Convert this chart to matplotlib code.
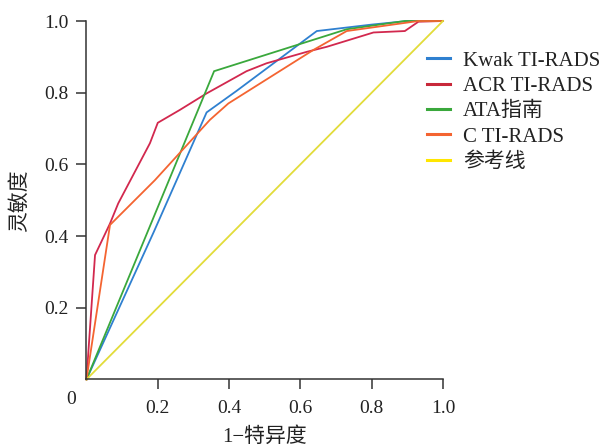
import matplotlib
matplotlib.use("Agg")
import matplotlib.pyplot as plt
from matplotlib.lines import Line2D

plt.rcParams['font.family'] = ['Liberation Serif', 'Noto Sans CJK SC']

series_names = ["Kwak TI-RADS", "ACR TI-RADS", "ATA指南", "C TI-RADS", "参考线"]

kwak_x = [0.0, 0.189, 0.337, 0.421, 0.646, 0.80, 0.90, 1.0]
kwak_y = [0.0, 0.412, 0.745, 0.805, 0.972, 0.99, 1.0, 1.0]

acr_x = [0.0, 0.024, 0.066, 0.089, 0.178, 0.200, 0.262, 0.337, 0.449, 0.505, 0.618, 0.674, 0.805, 0.893, 0.931, 1.0]
acr_y = [0.0, 0.347, 0.435, 0.491, 0.659, 0.716, 0.752, 0.798, 0.860, 0.882, 0.914, 0.928, 0.968, 0.972, 0.998, 1.0]

ata_x = [0.0, 0.358, 0.730, 0.893, 1.0]
ata_y = [0.0, 0.860, 0.977, 1.0, 1.0]

c_x = [0.0, 0.066, 0.192, 0.346, 0.398, 0.636, 0.730, 0.931, 1.0]
c_y = [0.0, 0.431, 0.556, 0.724, 0.770, 0.919, 0.972, 1.0, 1.0]

ref_x = [0.0, 1.0]
ref_y = [0.0, 1.0]

ticks = [0.2, 0.4, 0.6, 0.8, 1.0]
tick_labels = ["0.2", "0.4", "0.6", "0.8", "1.0"]

colors = ["#2f80d0", "#d2284e", "#3aa83c", "#f46431", "#e2dc3a"]
legend_colors = ["#2f80d0", "#c8283a", "#3aa83c", "#f46431", "#ffe600"]

fig = plt.figure(figsize=(6.06, 4.47), dpi=100)
ax = fig.add_axes([0.1427, 0.1512, 0.5883, 0.8018])

data = [(kwak_x, kwak_y), (acr_x, acr_y), (ata_x, ata_y), (c_x, c_y), (ref_x, ref_y)]
for (xs, ys), col in zip(data, colors):
    ax.plot(xs, ys, color=col, lw=1.3, solid_joinstyle='miter', clip_on=False)

ax.set_xlim(0, 1.0)
ax.set_ylim(0, 1.0)
ax.set_xticks(ticks)
ax.set_xticklabels(tick_labels)
ax.set_yticks(ticks)
ax.set_yticklabels(tick_labels)
for s in ["top", "right"]:
    ax.spines[s].set_visible(False)
for s in ["left", "bottom"]:
    ax.spines[s].set_color("#333333")
    ax.spines[s].set_linewidth(1.1)
ax.tick_params(axis='both', direction='out', length=7, width=1.1, color="#333333",
               labelsize=14, labelcolor="#222222")
ax.tick_params(axis='x', pad=8)
ax.tick_params(axis='y', pad=6)
ax.text(-0.03, -0.032, "0", transform=ax.transAxes, ha='right', va='top',
        fontsize=14, color="#222222")

ax.set_xlabel("1−特异度", fontsize=15, color="#222222", labelpad=7)
ax.set_ylabel("灵敏度", fontsize=15, color="#222222", labelpad=10)

handles = [Line2D([0], [0], color=c, lw=2.2) for c in legend_colors]
leg = fig.legend(handles, series_names, loc='upper left', bbox_to_anchor=(0.7046, 0.886),
                 frameon=False, fontsize=15, handlelength=1.1, handletextpad=0.62,
                 labelspacing=0.28, borderpad=0, borderaxespad=0, labelcolor="#222222")

fig.savefig("out.png", dpi=100)
